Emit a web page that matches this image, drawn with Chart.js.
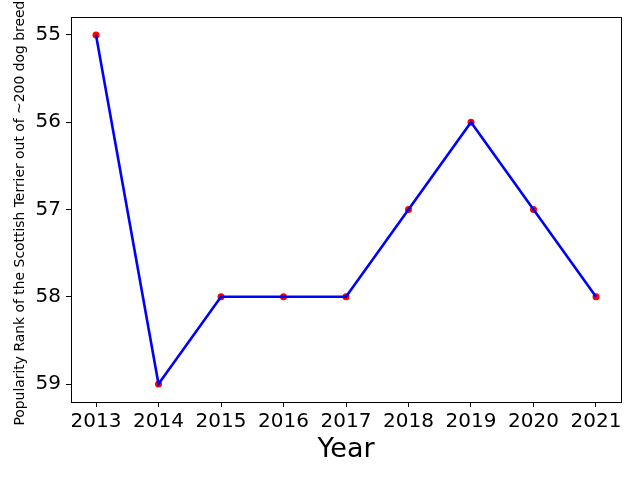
<!DOCTYPE html>
<html>
<head>
<meta charset="utf-8">
<script src="https://cdn.jsdelivr.net/npm/chart.js@4/dist/chart.umd.min.js"></script>
<style>
    html, body { margin: 0; padding: 0; background: #fff; }
    #rankChart { display: block; }
</style>
</head>
<body>
<canvas id="rankChart" width="640" height="480"></canvas>
<script>
// data
const years = [2013, 2014, 2015, 2016, 2017, 2018, 2019, 2020, 2021];
const ranks = [55, 59, 58, 58, 58, 57, 56, 57, 58];
const xTicks = [2013, 2014, 2015, 2016, 2017, 2018, 2019, 2020, 2021];
const yTicks = [55, 56, 57, 58, 59];

const FONT = "'DejaVu Sans', sans-serif";

// top/right frame lines, like the matplotlib box
const frameBox = {
    id: 'frameBox',
    afterDraw(chart) {
        const a = chart.chartArea;
        const ctx = chart.ctx;
        ctx.save();
        ctx.strokeStyle = '#000';
        ctx.lineWidth = 1;
        ctx.strokeRect(Math.round(a.left) + 0.5, Math.round(a.top) + 0.5,
            Math.round(a.right - a.left), Math.round(a.bottom - a.top));
        ctx.restore();
    }
};

const points = years.map((y, i) => ({ x: y, y: ranks[i] }));

new Chart(document.getElementById('rankChart').getContext('2d'), {
    type: 'line',
    data: {
        datasets: [{
            data: points,
            borderColor: 'blue',
            borderWidth: 2.6,
            pointRadius: 0,
            fill: false,
            tension: 0,
            order: 0
        }, {
            data: points,
            showLine: false,
            pointRadius: 3.5,
            pointBackgroundColor: 'red',
            pointBorderWidth: 0,
            order: 1
        }]
    },
    options: {
        responsive: false,
        devicePixelRatio: 1,
        animation: false,
        layout: { padding: { top: 15, right: 19, left: 0, bottom: 14 } },
        plugins: {
            legend: { display: false },
            tooltip: { enabled: false }
        },
        scales: {
            x: {
                type: 'linear',
                min: 2012.6,
                max: 2021.4,
                afterBuildTicks: s => { s.ticks = xTicks.map(v => ({ value: v })); },
                afterFit: s => { s.height = 64; },
                grid: { drawOnChartArea: false, drawTicks: true, tickLength: 5, color: '#000' },
                border: { display: true, color: '#000', width: 1 },
                ticks: {
                    color: '#000',
                    font: { family: FONT, size: 20 },
                    padding: 3,
                    maxRotation: 0,
                    callback: v => String(v)
                },
                title: {
                    display: true,
                    text: 'Year',
                    color: '#000',
                    font: { family: FONT, size: 27 },
                    padding: { top: 2, bottom: 0 }
                }
            },
            y: {
                type: 'linear',
                reverse: true,
                min: 54.795,
                max: 59.205,
                afterBuildTicks: s => { s.ticks = yTicks.map(v => ({ value: v })); },
                afterFit: s => { s.width = 71; },
                grid: { drawOnChartArea: false, drawTicks: true, tickLength: 5, color: '#000' },
                border: { display: true, color: '#000', width: 1 },
                ticks: {
                    color: '#000',
                    font: { family: FONT, size: 20 },
                    padding: 5,
                    callback: v => String(v)
                },
                title: {
                    display: true,
                    text: 'Popularity Rank of the Scottish Terrier out of ~200 dog breeds',
                    color: '#000',
                    font: { family: FONT, size: 13.9 },
                    padding: { top: 12, bottom: 0 }
                }
            }
        }
    },
    plugins: [frameBox]
});
</script>
</body>
</html>
